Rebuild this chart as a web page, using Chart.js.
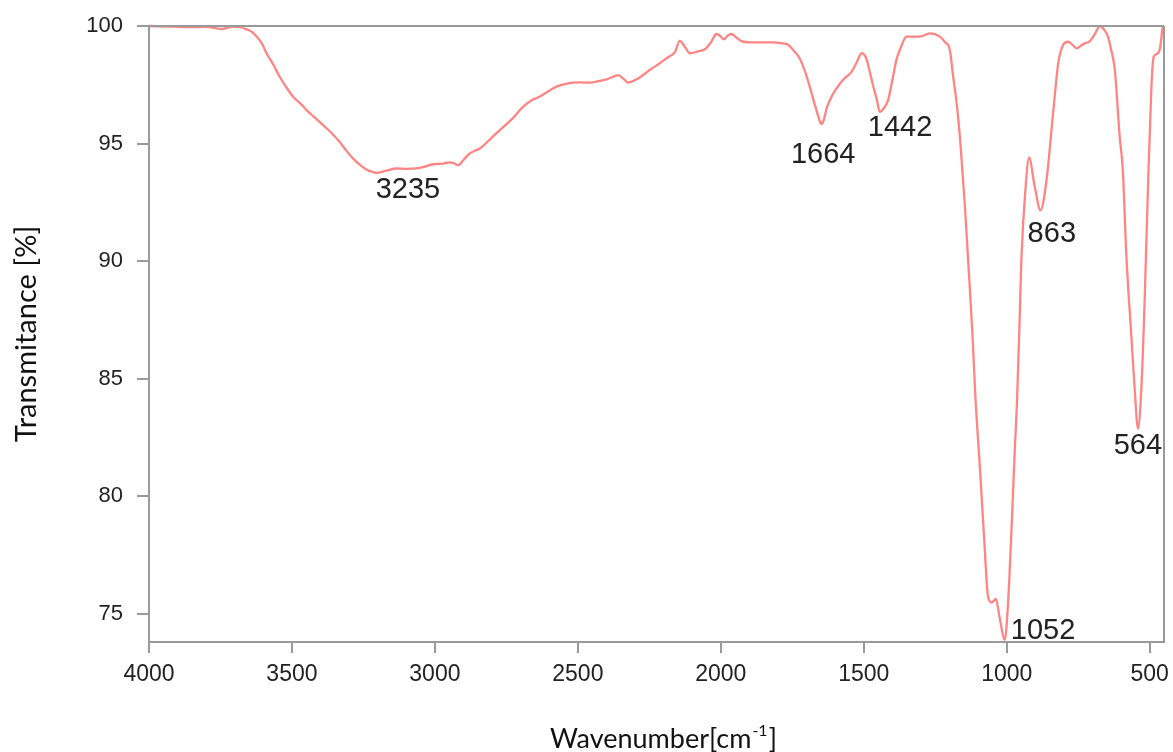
<!DOCTYPE html>
<html>
<head>
<meta charset="utf-8">
<script src="https://cdn.jsdelivr.net/npm/chart.js@4.4.1/dist/chart.umd.min.js"></script>
<style>
  html, body { margin: 0; padding: 0; background: #ffffff; }
  #wrap { width: 1173px; height: 752px; }
</style>
</head>
<body>
<div id="wrap"><canvas id="c" width="1173" height="752"></canvas></div>
<script>
// ---- data ----
const wavenumbers = [
  4000, 3916, 3850, 3799, 3747, 3706, 3680, 3659, 3640, 3624, 3605, 3589, 3565, 3543, 3520, 3496,
  3470, 3449, 3420, 3391, 3360, 3333, 3310, 3286, 3260, 3240, 3220, 3205, 3170, 3135, 3100, 3065,
  3035, 3007, 2970, 2950, 2937, 2919, 2900, 2878, 2860, 2843, 2810, 2773, 2730, 2692, 2660, 2633,
  2600, 2575, 2545, 2517, 2490, 2459, 2430, 2400, 2375, 2360, 2340, 2325, 2300, 2284, 2265, 2249,
  2215, 2185, 2160, 2144, 2125, 2109, 2080, 2056, 2035, 2015, 2000, 1990, 1975, 1963, 1945, 1922,
  1880, 1817, 1790, 1765, 1745, 1724, 1705, 1689, 1670, 1655, 1648, 1640, 1630, 1613, 1595, 1573,
  1555, 1543, 1525, 1508, 1491, 1480, 1468, 1455, 1444, 1430, 1415, 1400, 1386, 1370, 1351, 1304,
  1269, 1234, 1215, 1199, 1188, 1175, 1162, 1147, 1135, 1120, 1110, 1094, 1080, 1065, 1053, 1038,
  1025, 1007, 995, 984, 972, 964, 955, 949, 934, 922, 902, 882, 861, 838, 820, 803,
  786, 770, 756, 730, 710, 690, 675, 660, 646, 635, 622, 605, 594, 582, 564, 553,
  541, 529, 518, 506, 494, 486, 471, 463, 454, 450
];
const transmittance = [
  100.0, 99.97, 99.95, 99.96, 99.87, 99.97, 99.95, 99.86, 99.75, 99.55, 99.25, 98.84, 98.35, 97.84, 97.4, 96.99,
  96.7, 96.42, 96.1, 95.78, 95.43, 95.07, 94.7, 94.36, 94.07, 93.9, 93.8, 93.75, 93.85, 93.94, 93.92, 93.94,
  94.02, 94.12, 94.15, 94.2, 94.18, 94.08, 94.3, 94.58, 94.7, 94.79, 95.15, 95.57, 96.05, 96.56, 96.85, 97.0,
  97.25, 97.42, 97.53, 97.59, 97.6, 97.59, 97.65, 97.73, 97.85, 97.91, 97.75, 97.59, 97.7, 97.81, 97.98, 98.13,
  98.4, 98.67, 98.9, 99.37, 99.1, 98.84, 98.92, 99.01, 99.3, 99.66, 99.55, 99.43, 99.6, 99.66, 99.5, 99.33,
  99.3, 99.3, 99.27, 99.2, 98.95, 98.62, 98.05, 97.42, 96.6, 96.0, 95.83, 96.0, 96.5, 96.99, 97.35, 97.7,
  97.9, 98.05, 98.45, 98.84, 98.62, 98.1, 97.49, 96.9, 96.35, 96.5, 96.85, 97.7, 98.55, 99.1, 99.55, 99.55,
  99.69, 99.55, 99.3, 98.98, 97.9, 96.7, 95.0, 92.46, 90.03, 86.9, 84.3, 81.23, 78.4, 75.7, 75.48, 75.63,
  74.84, 73.88, 75.55, 78.4, 81.94, 84.07, 87.5, 90.03, 93.16, 94.41, 93.16, 92.16, 93.44, 96.28, 98.41, 99.19,
  99.33, 99.2, 99.05, 99.25, 99.35, 99.7, 100.0, 99.85, 99.55, 99.0, 98.13, 95.29, 93.87, 90.32, 86.77, 84.64,
  82.87, 84.64, 88.19, 93.16, 97.42, 98.69, 98.84, 99.12, 99.97, 100.0
];
// peak annotations: text and anchor (wavenumber, transmittance) of the text's left baseline
const peakLabels = ["3235", "1664", "1442", "1052", "863", "564"];
const peakLabelX = [3207, 1755, 1486, 986, 927, 626];
const peakLabelY = [92.67, 94.17, 95.32, 73.94, 90.8, 81.81];
const xTickValues = [4000, 3500, 3000, 2500, 2000, 1500, 1000, 500];
const yTickValues = [75, 80, 85, 90, 95, 100];
const xTitle = "Wavenumber[cm";
const xTitleSup = "-1";
const yTitle = "Transmitance [%]";

const points = wavenumbers.map((w, i) => ({ x: w, y: transmittance[i] }));

const framePlugin = {
  id: 'frame',
  afterDraw(chart) {
    const { ctx, chartArea: a, scales } = chart;
    ctx.save();
    ctx.strokeStyle = '#9a9a9a';
    ctx.lineWidth = 2;
    ctx.beginPath();
    ctx.moveTo(a.left, a.top); ctx.lineTo(a.right, a.top);
    ctx.moveTo(a.right, a.top); ctx.lineTo(a.right, a.bottom);
    ctx.stroke();
    // peak labels
    ctx.fillStyle = '#222222';
    ctx.font = '29px "Liberation Sans", Arial, sans-serif';
    ctx.textAlign = 'left';
    ctx.textBaseline = 'alphabetic';
    peakLabels.forEach((t, i) => {
      ctx.fillText(t, scales.x.getPixelForValue(peakLabelX[i]), scales.y.getPixelForValue(peakLabelY[i]));
    });
    // x-axis title with superscript
    const main = '27px Lato, "Open Sans", sans-serif';
    const sup = '16px Lato, "Open Sans", sans-serif';
    ctx.font = main; const w1 = ctx.measureText(xTitle).width; const w3 = ctx.measureText(']').width;
    ctx.font = sup; const w2 = ctx.measureText(xTitleSup).width;
    const total = w1 + w2 + w3;
    const cx = (a.left + a.right) / 2 + 6;
    const base = 748;
    let x0 = cx - total / 2;
    ctx.fillStyle = '#111111';
    ctx.font = main; ctx.fillText(xTitle, x0, base);
    ctx.font = sup; ctx.fillText(xTitleSup, x0 + w1 + 1, base - 12);
    ctx.font = main; ctx.fillText(']', x0 + w1 + w2 + 2, base);
    ctx.restore();
  }
};

new Chart(document.getElementById('c'), {
  type: 'scatter',
  data: {
    datasets: [{
      data: points,
      showLine: true,
      borderColor: 'rgba(255,110,110,0.85)',
      backgroundColor: 'rgba(255,110,110,0.85)',
      borderWidth: 2.3,
      pointRadius: 0,
      cubicInterpolationMode: 'monotone',
      fill: false
    }]
  },
  options: {
    responsive: false,
    animation: false,
    clip: false,
    layout: { padding: { top: 26, right: 9, left: 0, bottom: 0 } },
    plugins: { legend: { display: false }, tooltip: { enabled: false } },
    scales: {
      x: {
        type: 'linear',
        reverse: true,
        min: 450,
        max: 4000,
        afterBuildTicks(scale) { scale.ticks = xTickValues.map(v => ({ value: v })); },
        afterFit(scale) { scale.height = 110; scale.paddingLeft = 0; scale.paddingRight = 0; },
        ticks: {
          font: { family: '"Liberation Sans", Arial, sans-serif', size: 23 },
          color: '#222222',
          padding: 8,
          maxRotation: 0,
          autoSkip: false,
          callback: v => String(v)
        },
        grid: { drawOnChartArea: false, drawTicks: true, tickLength: 11, color: '#9a9a9a', lineWidth: 2 },
        border: { display: true, color: '#9a9a9a', width: 2 }
      },
      y: {
        type: 'linear',
        min: 73.8,
        max: 100,
        afterBuildTicks(scale) { scale.ticks = yTickValues.map(v => ({ value: v })); },
        afterFit(scale) { scale.width = 149; scale.paddingTop = 0; scale.paddingBottom = 0; },
        ticks: {
          font: { family: '"Liberation Sans", Arial, sans-serif', size: 22 },
          color: '#222222',
          padding: 14,
          autoSkip: false,
          callback: v => String(v)
        },
        grid: { drawOnChartArea: false, drawTicks: true, tickLength: 12, color: '#9a9a9a', lineWidth: 2 },
        border: { display: true, color: '#9a9a9a', width: 2 },
        title: {
          display: true,
          text: yTitle,
          font: { family: 'Lato, "Open Sans", sans-serif', size: 29 },
          color: '#111111',
          padding: { top: 9, bottom: 0 }
        }
      }
    }
  },
  plugins: [framePlugin]
});
</script>
</body>
</html>
